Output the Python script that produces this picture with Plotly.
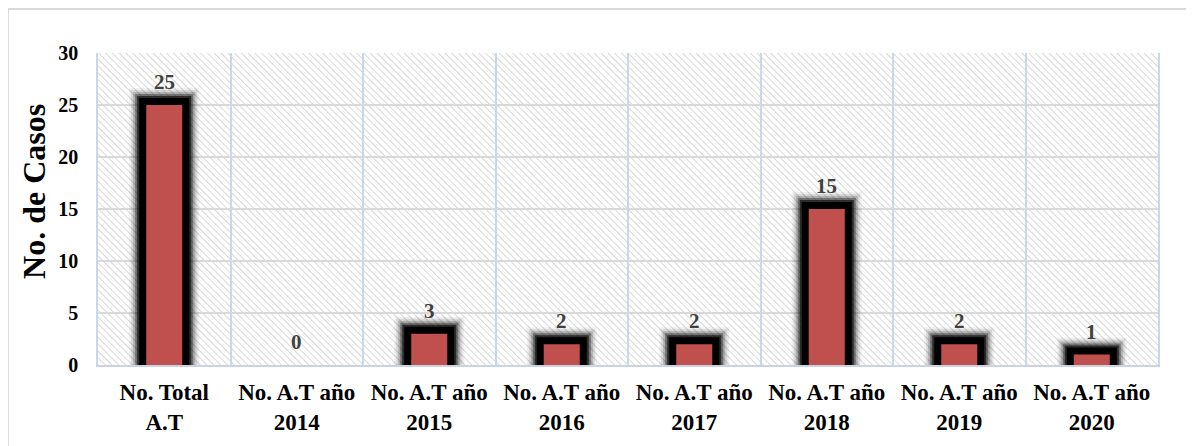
import base64
import plotly.graph_objects as go

categories = ["No. Total<br>A.T", "No. A.T año<br>2014", "No. A.T año<br>2015",
              "No. A.T año<br>2016", "No. A.T año<br>2017", "No. A.T año<br>2018",
              "No. A.T año<br>2019", "No. A.T año<br>2020"]
values = [25, 0, 3, 2, 2, 15, 2, 1]
y_ticks = [0, 5, 10, 15, 20, 25, 30]

FONT = "Liberation Serif"
BAR_W = 0.272

svg = (
    '<svg xmlns="http://www.w3.org/2000/svg" width="1060" height="312" '
    'viewBox="0 0 1060 312" preserveAspectRatio="none">'
    '<defs><pattern id="h" patternUnits="userSpaceOnUse" width="4.8" height="4.8" '
    'patternTransform="rotate(-45)">'
    '<rect width="4.8" height="4.8" fill="#ffffff"/>'
    '<line x1="0" y1="0" x2="0" y2="4.8" stroke="#cfcfcf" stroke-width="1.6"/>'
    '</pattern></defs>'
    '<rect width="1060" height="312" fill="url(#h)"/></svg>'
)
svg_uri = "data:image/svg+xml;base64," + base64.b64encode(svg.encode()).decode()

fig = go.Figure()

# soft black glow behind bars (outer, faint -> inner, solid)
for lw, alpha in [(34, 0.06), (30, 0.1), (26, 0.18), (22, 0.35), (18, 0.6), (14, 1.0)]:
    fig.add_trace(go.Bar(
        x=categories, y=values, width=BAR_W,
        marker=dict(color="rgba(0,0,0,0)",
                    line=dict(color=f"rgba(0,0,0,{alpha})",
                              width=[lw if v > 0 else 0 for v in values])),
        hoverinfo="skip", showlegend=False,
    ))

fig.add_trace(go.Bar(
    x=categories, y=values, width=BAR_W,
    marker=dict(color="#c0504d", line=dict(width=0)),
    showlegend=False,
))

for c, v in zip(categories, values):
    fig.add_annotation(x=c, y=v, text=str(v), showarrow=False, yanchor="middle",
                       yshift=23,
                       font=dict(family=FONT, size=21, color="#404040", weight="bold"))

fig.add_annotation(x=-0.0604, y=0.558, xref="paper", yref="paper",
                   text="No. de Casos", textangle=-90, showarrow=False,
                   xanchor="center", yanchor="middle",
                   font=dict(family=FONT, size=32, color="black", weight="bold"))

fig.update_layout(
    width=1194, height=446,
    margin=dict(l=90, r=44, t=45, b=89),
    paper_bgcolor="white", plot_bgcolor="rgba(0,0,0,0)",
    barmode="overlay",
    font=dict(family=FONT, color="black"),
    images=[dict(source=svg_uri, xref="paper", yref="paper", x=0, y=1,
                 sizex=1, sizey=1, xanchor="left", yanchor="top",
                 sizing="stretch", layer="below")],
    shapes=[
        dict(type="line", xref="paper", yref="paper", x0=-0.085, x1=1.05,
             y0=1.141, y1=1.141, line=dict(color="#d9d9d9", width=2)),
        dict(type="line", xref="paper", yref="paper", x0=-0.085, x1=-0.085,
             y0=1.141, y1=-0.3, line=dict(color="#d9d9d9", width=2)),
    ],
)

fig.update_xaxes(
    type="category", tickson="boundaries", showgrid=True,
    gridcolor="#c9d7ec", gridwidth=1.5,
    showline=True, linecolor="#c9d3e3", linewidth=1.5,
    ticks="", ticklabelstandoff=6,
    tickfont=dict(family=FONT, size=23, color="black", weight="bold"),
    range=[-0.5, 7.5],
)
fig.update_yaxes(
    range=[0, 30], tickvals=y_ticks, showgrid=True,
    gridcolor="#d9d9d9", gridwidth=1.5, zeroline=False,
    showline=True, mirror=True, linecolor="#c9d7ec", linewidth=1.5,
    ticks="", ticklabelstandoff=14,
    tickfont=dict(family=FONT, size=20, color="black", weight="bold"),
)

fig.write_html("out.html")
